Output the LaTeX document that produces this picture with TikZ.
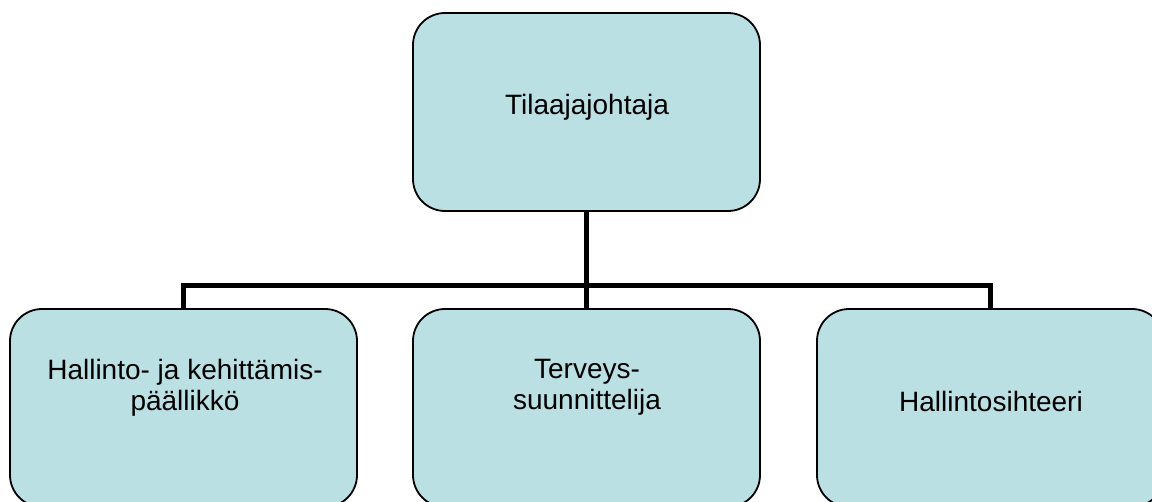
\documentclass[tikz,border=0pt]{standalone}
\usepackage{fontspec}
\setmainfont{Liberation Sans}
\definecolor{boxfill}{HTML}{BBE0E3}
\begin{document}
\begin{tikzpicture}[x=1pt,y=-1pt,
  orgbox/.style={draw=black, line width=1.8pt, fill=boxfill, rounded corners=32pt,
    minimum width=347pt, minimum height=198pt, inner sep=0pt, outer sep=0pt},
  orgtext/.style={font=\fontsize{28}{31}\selectfont, inner sep=0pt, align=center, anchor=base},
  link/.style={line width=5.5pt, line join=miter, draw=black}]
\useasboundingbox (0,0) rectangle (1152,501);
\clip (0,0) rectangle (1152,501);
\node[orgbox] (top) at (586.5,112) {};
\node[orgbox] (left) at (183.5,408) {};
\node[orgbox] (mid) at (586.5,408) {};
\node[orgbox] (right) at (990.5,408) {};
\coordinate (bar) at (586.5,285.5);
\draw[link] (left.north) -- (left.north |- bar) -- (right.north |- bar) -- (right.north);
\draw[link] (top.south) -- (mid.north);
\node[orgtext] (ttop) at (587,114) {Tilaajajohtaja};
\node[orgtext] (tleft) at (185,410) {Hallinto- ja kehittämis-\\päällikkö};
\node[orgtext] (tmid) at (587,409) {Terveys-\\suunnittelija};
\node[orgtext] (tright) at (991,411) {Hallintosihteeri};
\end{tikzpicture}
\end{document}
